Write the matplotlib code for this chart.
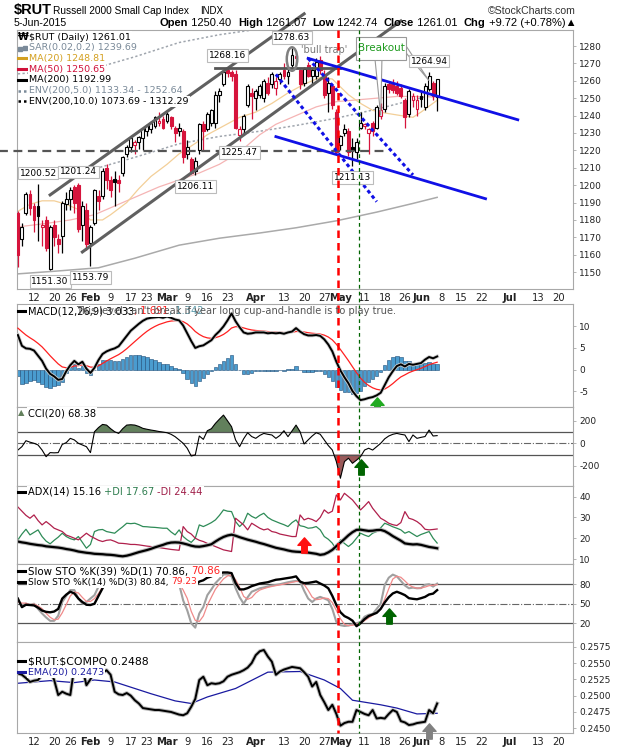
import matplotlib
matplotlib.use("Agg")
import matplotlib.pyplot as plt
import numpy as np
import pandas as pd
from matplotlib.patches import Ellipse, Polygon, Rectangle
from matplotlib.path import Path

plt.rcParams["font.family"] = ["DejaVu Sans"]
plt.rcParams["axes.unicode_minus"] = False

RED = "#d6143c"
FRAME = "#a8a8a8"

HOLIDAYS = ["2015-01-19", "2015-02-16", "2015-04-03", "2015-05-25", "2015-07-03"]
SESSIONS = pd.bdate_range("2015-01-06", "2015-07-31", freq="C", holidays=HOLIDAYS)

TICK_DATES = ["2015-01-12", "2015-01-20", "2015-01-26", "2015-02-02", "2015-02-09",
              "2015-02-17", "2015-02-23", "2015-03-02", "2015-03-09", "2015-03-16",
              "2015-03-23", "2015-04-01", "2015-04-13", "2015-04-20", "2015-04-27",
              "2015-05-01", "2015-05-11", "2015-05-18", "2015-05-26", "2015-06-01",
              "2015-06-08", "2015-06-15", "2015-06-22", "2015-07-01", "2015-07-13",
              "2015-07-20"]
TICK_LABELS = ["12", "20", "26", "Feb", "9", "17", "23", "Mar", "9", "16", "23", "Apr",
               "13", "20", "27", "May", "11", "18", "26", "Jun", "8", "15", "22", "Jul",
               "13", "20"]

# daily $RUT candles, 6-Jan-2015 .. 5-Jun-2015
OPEN = [1184, 1169, 1184, 1195, 1188, 1188, 1176, 1180, 1152, 1177,
        1169, 1171, 1189, 1192, 1199, 1200, 1177, 1186, 1167, 1178,
        1194, 1194, 1210, 1203, 1203.5, 1203, 1207, 1218, 1222, 1223,
        1225, 1227, 1231, 1232, 1234, 1236, 1238, 1237, 1239, 1233,
        1231, 1231, 1218, 1215, 1208, 1220, 1235, 1232, 1236, 1236,
        1252, 1258, 1266, 1265, 1264, 1229, 1232, 1246, 1253, 1250,
        1252, 1250, 1259, 1258, 1256, 1261, 1266, 1263, 1269, 1274,
        1266, 1259, 1269, 1263, 1263, 1272, 1264, 1253, 1257, 1242,
        1223, 1230, 1231, 1222, 1219, 1233, 1234, 1230, 1236, 1233,
        1240, 1244, 1258, 1258, 1257, 1256, 1249, 1241, 1249, 1244,
        1251, 1245, 1255, 1259, 1250.40]
HIGH = [1185, 1178, 1196, 1197, 1190, 1200.52, 1180, 1182, 1177, 1180,
        1172, 1191, 1196, 1199, 1200, 1201.24, 1191, 1190, 1177, 1198,
        1197, 1210, 1212, 1205, 1208, 1206, 1217, 1223, 1228, 1226,
        1228, 1233, 1235, 1237, 1240, 1242, 1240, 1242, 1240, 1234,
        1236, 1232, 1226, 1216, 1216, 1236, 1237, 1242, 1244, 1254,
        1256, 1266, 1268.16, 1266, 1266, 1234, 1241, 1258, 1256, 1255,
        1258, 1261, 1262, 1265, 1262, 1265, 1270, 1267, 1278.63, 1276,
        1267, 1268, 1271, 1268, 1273, 1274, 1266, 1262, 1258, 1244,
        1229, 1235, 1233, 1227, 1227, 1242, 1236, 1233, 1237, 1246,
        1247, 1259, 1260, 1261, 1260, 1258, 1250, 1255, 1253, 1252,
        1254, 1259, 1264.94, 1260, 1261.07]
LOW = [1153, 1165, 1183, 1183, 1173, 1168, 1165, 1162, 1151.30, 1165,
       1161, 1161, 1186, 1186, 1184, 1173, 1168, 1163, 1153.79, 1177,
       1186, 1192, 1198, 1193, 1188, 1196, 1205, 1216, 1219, 1218,
       1221, 1220, 1228, 1230, 1233, 1234, 1232, 1236, 1232, 1225,
       1228, 1213, 1215, 1206.5, 1206.11, 1218, 1220, 1231, 1234, 1233,
       1248, 1257, 1262, 1260, 1232, 1225.47, 1230, 1245, 1238, 1243,
       1250, 1248, 1252, 1256, 1252, 1258, 1261, 1258, 1268, 1270,
       1255, 1257, 1262, 1258, 1261, 1264, 1250, 1242, 1244, 1218,
       1220, 1228, 1217, 1211.13, 1215, 1232, 1232, 1218, 1228, 1232,
       1238, 1242, 1253, 1253, 1252, 1250, 1233, 1239, 1245, 1240,
       1245, 1243, 1254, 1249, 1242.74]
CLOSE = [1160, 1176, 1195, 1187, 1180, 1182, 1177, 1164, 1176, 1170,
         1166, 1190, 1192, 1197, 1190, 1175, 1188, 1166, 1176, 1197,
         1191, 1208, 1203, 1197, 1202, 1201, 1216, 1222, 1227, 1225,
         1227.5, 1232, 1234, 1235.5, 1239, 1237, 1233, 1241, 1234, 1230,
         1233, 1216, 1222, 1207, 1214, 1235, 1231, 1241, 1243, 1252,
         1254, 1265, 1264.5, 1263, 1233, 1232, 1240, 1257, 1251, 1254,
         1257, 1260, 1253, 1264, 1260, 1264, 1263, 1265, 1275, 1273,
         1258, 1267, 1263, 1266, 1271, 1266, 1252, 1259, 1246, 1219,
         1228, 1232, 1219, 1220, 1225, 1236, 1235, 1232, 1231, 1245,
         1243, 1257, 1255, 1254.5, 1253, 1251, 1239, 1254, 1251.5, 1249,
         1249.5, 1257, 1263, 1251, 1261.01]

# overlays read at weekly points
MA20_DATES = ["2015-01-06", "2015-01-09", "2015-01-14", "2015-01-20", "2015-01-23",
              "2015-01-28", "2015-02-02", "2015-02-05", "2015-02-09", "2015-02-13",
              "2015-02-19", "2015-02-24", "2015-03-02", "2015-03-05", "2015-03-11",
              "2015-03-16", "2015-03-20", "2015-03-26", "2015-04-01", "2015-04-08",
              "2015-04-14", "2015-04-20", "2015-04-24", "2015-04-29", "2015-05-05",
              "2015-05-08", "2015-05-13", "2015-05-18", "2015-05-22", "2015-05-28",
              "2015-06-01", "2015-06-05"]
MA20 = [1185, 1189, 1191, 1191, 1189, 1186, 1180, 1180, 1183, 1190, 1198, 1205, 1212,
        1218, 1224, 1229, 1234, 1239, 1242, 1247, 1253, 1258, 1262, 1261, 1252, 1247,
        1243, 1241.5, 1240, 1239, 1242, 1248.81]
MA50_DATES = ["2015-01-06", "2015-01-15", "2015-01-26", "2015-02-03", "2015-02-10",
              "2015-02-18", "2015-02-26", "2015-03-05", "2015-03-12", "2015-03-19",
              "2015-03-26", "2015-04-02", "2015-04-09", "2015-04-16", "2015-04-23",
              "2015-04-30", "2015-05-07", "2015-05-14", "2015-05-21", "2015-05-28",
              "2015-06-05"]
MA50 = [1176, 1178, 1180, 1183, 1188, 1193, 1199, 1203, 1207, 1212, 1219, 1229, 1235,
        1240, 1245, 1248, 1249, 1250, 1251, 1251, 1250.65]
MA200_DATES = ["2015-01-06", "2015-01-20", "2015-02-04", "2015-02-18", "2015-03-05",
               "2015-03-19", "2015-04-02", "2015-04-16", "2015-04-30", "2015-05-14",
               "2015-05-28", "2015-06-05"]
MA200 = [1149, 1150.5, 1152.5, 1158, 1165.5, 1169.5, 1172.5, 1175.5, 1179.5, 1184.5,
         1189.5, 1192.99]
ENV5_UP = [1206.5, 1208, 1210, 1216, 1223.8, 1228, 1231, 1234.3, 1238.5, 1243.7, 1249,
           1252.64]
ENV10_UP = [1264, 1265.5, 1267.8, 1273.8, 1282, 1286.5, 1289.8, 1293, 1297.5, 1303,
            1308.5, 1312.29]

PEAK_DATES = ["2015-01-13", "2015-01-28", "2015-03-23", "2015-04-15", "2015-06-03"]
PEAKS = [1200.52, 1201.24, 1268.16, 1278.63, 1264.94]
TROUGH_DATES = ["2015-01-16", "2015-02-02", "2015-03-11", "2015-03-26", "2015-05-06"]
TROUGHS = [1151.30, 1153.79, 1206.11, 1225.47, 1211.13]

# hand-drawn lines: (date, price) pairs
CHANNEL_UP = [("2015-01-16", 1194.4), ("2015-04-20", 1298.5)]
CHANNEL_LO = [("2015-01-29", 1161.6), ("2015-05-22", 1294.4)]
RESIST = [("2015-03-18", 1267.2), ("2015-05-01", 1267.2)]
SUPPORT = 1219.6
SUPPORT_END = "2015-05-19"
BLUE_UP = [("2015-04-21", 1272.9), ("2015-07-06", 1237.6)]
BLUE_LO = [("2015-04-09", 1227.9), ("2015-06-23", 1192.2)]
BLUE_DOT_A = [("2015-04-09", 1263.7), ("2015-05-14", 1190.5)]
BLUE_DOT_B = [("2015-04-21", 1272.9), ("2015-05-28", 1205.9)]

MACD = [8.0, 5.5, 4.9, 4.8, 4.4, 3.2, 2.0, 0.2, -1.0, -1.6,
        -2.4, -2.2, -0.4, 1.0, 2.0, 1.2, 1.8, 0.2, -0.8, 0.4,
        2.2, 3.6, 4.2, 4.6, 4.9, 5.4, 6.6, 7.8, 9.0, 9.8,
        10.6, 11.3, 11.8, 12.0, 12.1, 12.2, 12.0, 12.3, 12.0, 11.6,
        11.4, 10.2, 8.4, 6.6, 5.0, 5.4, 5.6, 6.2, 6.8, 8.0,
        8.9, 10.0, 11.4, 13.0, 11.2, 9.8, 8.6, 8.3, 8.4, 8.6,
        8.6, 8.6, 8.4, 8.5, 8.4, 8.5, 8.3, 8.6, 8.8, 9.6,
        8.8, 8.2, 7.9, 7.9, 8.0, 7.8, 7.0, 5.8, 4.2, 1.8,
        -0.2, -1.8, -3.2, -5.0, -6.2, -7.1, -6.9, -6.6, -6.4, -6.0,
        -5.4, -3.6, -1.8, -0.4, 0.8, 1.2, 0.7, 1.3, 1.1, 1.3,
        1.5, 2.3, 2.9, 2.6, 3.033]
SIGNAL = [9.6, 8.78, 8.0, 7.36, 6.77, 6.06, 5.25, 4.24, 3.19, 2.23,
          1.30, 0.6, 0.4, 0.52, 0.82, 0.9, 1.08, 0.9, 0.56, 0.53,
          0.86, 1.41, 1.97, 2.5, 2.98, 3.46, 4.09, 4.83, 5.66, 6.49,
          7.31, 8.11, 8.85, 9.48, 10.0, 10.44, 10.75, 11.06, 11.25, 11.32,
          11.34, 11.11, 10.57, 9.78, 8.82, 8.14, 7.63, 7.34, 7.23, 7.38,
          7.68, 8.14, 8.79, 9.63, 9.94, 9.91, 9.65, 9.38, 9.18, 9.06,
          8.97, 8.90, 8.80, 8.74, 8.67, 8.64, 8.57, 8.58, 8.62, 8.82,
          8.82, 8.70, 8.54, 8.41, 8.33, 8.22, 7.98, 7.54, 6.87, 5.86,
          4.65, 3.36, 2.05, 0.64, -0.73, -2.0, -2.98, -3.71, -4.25, -4.6,
          -4.76, -4.53, -3.98, -3.27, -2.45, -1.72, -1.24, -0.73, -0.36, -0.03,
          0.28, 0.68, 1.13, 1.42, 1.691]
HIST = [-1.6, -3.28, -3.1, -2.56, -2.37, -2.86, -3.25, -4.04, -4.19, -3.83,
        -3.7, -2.8, -0.8, 0.48, 1.18, 0.3, 0.72, -0.7, -1.36, -0.13,
        1.34, 2.19, 2.23, 2.1, 1.92, 1.94, 2.51, 2.97, 3.34, 3.31,
        3.29, 3.19, 2.95, 2.52, 2.1, 1.76, 1.25, 1.24, 0.75, 0.28,
        0.06, -0.91, -2.17, -3.18, -3.82, -2.74, -2.03, -1.14, -0.43, 0.62,
        1.22, 1.86, 2.61, 3.37, 1.26, -0.11, -1.05, -1.08, -0.78, -0.46,
        -0.37, -0.3, -0.4, -0.24, -0.27, -0.14, -0.27, 0.02, 0.18, 0.78,
        -0.02, -0.5, -0.64, -0.51, -0.33, -0.42, -0.98, -1.74, -2.67, -4.06,
        -4.85, -5.16, -5.25, -5.64, -5.47, -5.1, -3.92, -2.89, -2.15, -1.4,
        -0.64, 0.93, 2.18, 2.87, 3.25, 2.92, 1.94, 2.03, 1.46, 1.33,
        1.22, 1.62, 1.77, 1.18, 1.342]

CCI = [-60, -30, 23, 10, 0, -15, -60, -119, -83, -85,
       -83, -10, 6, 44, 30, 0, -15, -30, -83, 103,
       140, 168, 162, 130, 103, 88, 130, 162, 165, 162,
       150, 133, 125, 118, 112, 105, 100, 94, 80, 59,
       30, 0, -44, -113, -104, 65, 35, 112, 130, 177,
       215, 251, 200, 148, 30, -30, 40, 94, 60, 44,
       70, 88, 80, 74, 44, 70, 112, 59, 110, 162,
       103, -6, 30, 65, 94, 80, 30, -20, -60, -163,
       -311, -163, -133, -178, -150, -119, -60, -44, -60, -30,
       0, 40, 65, 80, 88, 80, 74, 15, 74, 44,
       53, 60, 118, 65, 68.38]

ADX = [18.4, 18.0, 17.7, 17.3, 17.0, 16.7, 16.5, 16.1, 15.9, 15.7,
       15.5, 15.2, 14.8, 14.5, 14.1, 13.6, 13.3, 13.0, 12.8, 12.5,
       12.4, 12.3, 12.1, 12.0, 11.8, 11.5, 11.3, 11.6, 12.1, 12.7,
       13.3, 13.8, 14.3, 14.9, 15.6, 16.2, 16.8, 17.5, 17.9, 18.0,
       17.9, 17.5, 17.0, 16.4, 16.0, 15.9, 16.2, 16.6, 17.1, 18.4,
       19.6, 20.6, 21.3, 21.7, 21.2, 20.5, 19.9, 19.3, 18.8, 18.3,
       17.7, 17.2, 16.6, 16.0, 15.4, 15.0, 14.6, 14.1, 13.7, 13.5,
       13.4, 13.3, 13.1, 12.8, 12.5, 12.0, 12.3, 13.2, 14.4, 16.2,
       17.9, 19.6, 21.4, 22.9, 24.0, 24.1, 23.8, 23.5, 23.6, 23.9,
       24.0, 23.4, 22.3, 21.0, 19.9, 18.8, 17.5, 17.2, 17.0, 17.1,
       16.8, 16.3, 15.8, 15.5, 15.16]
PLUS_DI = [19.2, 22.0, 24.3, 21.6, 22.8, 24.0, 20.8, 18.6, 17.3, 19.0,
           20.5, 22.4, 20.8, 19.8, 19.2, 20.8, 18.0, 15.2, 17.0, 23.2,
           24.0, 24.2, 23.2, 22.8, 22.4, 24.0, 25.5, 27.2, 27.0, 27.2,
           26.5, 25.6, 25.5, 25.3, 25.2, 25.0, 24.8, 24.8, 23.0, 21.6,
           24.0, 20.8, 19.2, 18.0, 20.0, 26.4, 25.6, 26.5, 27.5, 28.8,
           31.0, 33.6, 33.0, 32.8, 28.0, 25.6, 27.5, 32.0, 30.5, 29.6,
           31.0, 32.0, 30.0, 28.8, 28.0, 27.2, 26.5, 25.6, 27.5, 28.8,
           26.0, 25.6, 24.8, 25.0, 25.6, 24.0, 20.8, 19.5, 17.6, 14.4,
           19.2, 17.5, 16.0, 17.6, 20.0, 22.4, 21.5, 20.8, 22.4, 23.2,
           25.0, 27.2, 26.4, 25.5, 24.8, 24.0, 22.4, 23.2, 22.0, 20.8,
           21.8, 22.5, 23.2, 20.0, 17.67]
MINUS_DI = [35.0, 33.0, 31.0, 29.6, 31.2, 28.5, 26.4, 28.0, 26.5, 24.8,
            24.0, 23.2, 21.5, 20.8, 20.0, 19.2, 20.8, 22.4, 21.0, 20.0,
            19.0, 18.4, 19.0, 19.2, 18.5, 17.6, 17.5, 17.3, 17.0, 17.0,
            16.8, 16.5, 16.2, 16.0, 15.8, 15.5, 15.2, 14.9, 14.6, 14.4,
            14.2, 25.6, 23.2, 22.0, 20.0, 19.0, 18.4, 17.5, 16.8, 16.0,
            15.2, 14.4, 14.0, 13.6, 29.6, 28.0, 26.4, 24.0, 27.2, 26.0,
            24.8, 24.0, 24.5, 23.2, 22.8, 22.0, 21.6, 21.2, 20.8, 20.8,
            31.2, 28.8, 29.6, 29.0, 28.0, 30.0, 33.6, 32.0, 33.0, 40.8,
            38.4, 41.6, 40.0, 38.4, 36.0, 33.6, 35.5, 37.6, 34.4, 32.0,
            29.6, 28.5, 27.2, 26.5, 26.1, 27.5, 32.8, 29.6, 29.0, 28.0,
            26.5, 24.3, 24.0, 24.2, 24.44]

STO39_K = [57.9, 44.7, 48.4, 48.0, 47.4, 44.0, 39.5, 37.5, 36.8, 38.0,
           42.0, 57.9, 64.0, 68.4, 65.8, 58.0, 52.6, 48.4, 48.0, 50.0,
           62.0, 73.7, 84.2, 90.0, 95.0, 92.0, 93.0, 95.0, 96.0, 95.0,
           96.0, 97.0, 97.0, 96.0, 97.0, 96.0, 93.0, 95.0, 92.0, 90.0,
           90.0, 82.0, 80.0, 77.0, 78.0, 84.0, 86.0, 90.0, 92.0, 96.0,
           97.0, 98.0, 98.0, 97.0, 82.0, 72.0, 72.0, 74.0, 77.0, 79.0,
           81.0, 82.0, 83.0, 85.0, 86.8, 87.5, 88.5, 89.5, 90.5, 92.0,
           84.0, 81.6, 82.0, 83.0, 84.2, 81.0, 78.0, 73.7, 62.0, 48.0,
           37.0, 31.0, 28.0, 24.0, 15.5, 20.0, 26.3, 31.0, 33.5, 36.0,
           42.1, 52.0, 60.0, 65.8, 68.4, 66.0, 63.2, 58.5, 57.5, 56.8,
           58.5, 60.5, 64.2, 65.5, 70.86]
STO14_K = [55.3, 47.4, 50.0, 48.0, 50.0, 42.0, 35.0, 28.9, 23.7, 23.7,
           31.6, 52.6, 62.0, 71.0, 71.0, 57.9, 50.0, 52.6, 58.0, 63.2,
           76.3, 88.0, 94.0, 92.0, 90.0, 88.0, 93.0, 96.0, 97.0, 95.0,
           96.0, 97.0, 98.0, 97.0, 98.0, 95.0, 88.0, 92.0, 85.0, 78.0,
           80.0, 55.0, 40.0, 20.0, 13.2, 35.0, 45.0, 63.2, 72.0, 81.6,
           88.0, 95.0, 95.0, 92.0, 74.0, 60.0, 50.0, 60.0, 68.4, 71.0,
           73.7, 75.0, 76.5, 78.0, 78.9, 80.0, 81.5, 83.0, 84.2, 85.0,
           84.2, 70.0, 58.0, 52.6, 58.0, 60.5, 58.0, 55.3, 42.0, 22.0,
           17.0, 15.8, 16.5, 18.4, 20.0, 22.0, 30.0, 33.0, 34.2, 42.0,
           50.0, 78.9, 90.0, 94.7, 92.0, 85.0, 78.0, 73.7, 74.7, 73.7,
           74.0, 79.0, 80.0, 76.3, 80.84]
STO14_D = [52.6, 51.0, 50.9, 48.5, 49.3, 46.7, 42.3, 35.3, 29.2, 25.4,
           26.3, 36.0, 48.7, 61.9, 68.0, 66.6, 59.6, 53.5, 53.5, 57.9,
           65.8, 75.8, 86.1, 91.3, 92.0, 90.0, 90.3, 92.3, 95.3, 96.0,
           96.0, 96.0, 97.0, 97.3, 97.7, 96.7, 93.7, 91.7, 88.3, 85.0,
           81.0, 71.0, 58.3, 38.3, 24.4, 22.7, 31.1, 47.7, 60.1, 72.3,
           80.5, 88.2, 92.7, 94.0, 87.0, 75.3, 61.3, 56.7, 59.5, 66.5,
           71.0, 73.2, 75.1, 76.5, 77.8, 79.0, 80.1, 81.5, 82.9, 84.1,
           84.5, 79.7, 70.7, 60.2, 56.2, 57.0, 58.8, 57.9, 51.8, 39.8,
           27.0, 18.3, 16.4, 16.9, 18.3, 20.1, 24.0, 28.3, 32.4, 36.4,
           42.1, 57.0, 73.0, 87.9, 92.2, 90.6, 85.0, 78.9, 75.5, 74.0,
           74.1, 75.6, 77.7, 78.4, 79.23]

RATIO = [0.2534, 0.2532, 0.2527, 0.2521, 0.2523, 0.2524, 0.2532, 0.2536, 0.2539, 0.2524,
         0.2501, 0.2506, 0.2503, 0.2501, 0.2544, 0.2534, 0.2542, 0.2516, 0.2525, 0.2537,
         0.2530, 0.2535, 0.2539, 0.2532, 0.2506, 0.2502, 0.2501, 0.2504, 0.2500, 0.2493,
         0.2488, 0.2481, 0.2480, 0.2479, 0.2478, 0.2478, 0.2477, 0.2476, 0.2475, 0.2473,
         0.2471, 0.2470, 0.2473, 0.2483, 0.2495, 0.2524, 0.2529, 0.2516, 0.2519, 0.2518,
         0.2519, 0.2522, 0.2529, 0.2532, 0.2534, 0.2536, 0.2539, 0.2543, 0.2550, 0.2562,
         0.2568, 0.2570, 0.2560, 0.2552, 0.2532, 0.2537, 0.2540, 0.2542, 0.2544, 0.2543,
         0.2542, 0.2536, 0.2529, 0.2514, 0.2521, 0.2501, 0.2490, 0.2478, 0.2486, 0.2472,
         0.2454, 0.2458, 0.2460, 0.2460, 0.2478, 0.2475, 0.2472, 0.2470, 0.2478, 0.2465,
         0.2466, 0.2465, 0.2472, 0.2478, 0.2475, 0.2461, 0.2459, 0.2455, 0.2456, 0.2458,
         0.2459, 0.2460, 0.2478, 0.2473, 0.2488]
RATIO_EMA_DATES = ["2015-01-06", "2015-01-16", "2015-01-27", "2015-02-03", "2015-02-10",
                   "2015-02-24", "2015-03-04", "2015-03-10", "2015-03-16", "2015-03-25",
                   "2015-04-07", "2015-04-17", "2015-04-27", "2015-05-01", "2015-05-06",
                   "2015-05-15", "2015-05-21", "2015-05-29", "2015-06-05"]
RATIO_EMA = [0.2519, 0.2523, 0.2520, 0.2524, 0.2521, 0.2503, 0.2492, 0.2488, 0.2498,
             0.2511, 0.2536, 0.2537, 0.2524, 0.2511, 0.2493, 0.2486, 0.2481, 0.2472,
             0.2473]

# signal arrows: panel, date, level, colour
ARROWS = [("macd", "2015-05-14", -8.3, "#22aa22"),
          ("cci", "2015-05-08", -215, "#006400"),
          ("adx", "2015-04-20", 16.8, "#ff1010"),
          ("sto", "2015-05-19", 30.7, "#006400"),
          ("ratio", "2015-06-03", 0.24465, "#808080")]


def pos(d):
    return SESSIONS.get_loc(pd.Timestamp(d))


def seg(ax, pts, **kw):
    ax.plot([pos(d) for d, _ in pts], [v for _, v in pts], **kw)


ARROW = Path([(-0.36, -1), (0.36, -1), (0.36, 0.02), (0.86, 0.02), (0, 1),
              (-0.86, 0.02), (-0.36, 0.02), (-0.36, -1)],
             [1, 2, 2, 2, 2, 2, 2, 79])

x = np.arange(len(CLOSE))
XLIM = (-0.22, 137.7)
L, W = 17 / 620, 556 / 620


def panel(top, bottom):
    return fig.add_axes([L, 1 - bottom / 750, W, (bottom - top) / 750])


fig = plt.figure(figsize=(6.2, 7.5), dpi=100)
ax = panel(30, 289)
ax_macd = panel(304, 407)
ax_cci = panel(407, 486)
ax_adx = panel(486, 564)
ax_sto = panel(564, 642)
ax_rat = panel(642, 733)
panels = dict(main=ax, macd=ax_macd, cci=ax_cci, adx=ax_adx, sto=ax_sto, ratio=ax_rat)

tick_pos = [pos(d) for d in TICK_DATES]
for a in panels.values():
    a.set_xlim(*XLIM)
    a.yaxis.tick_right()
    a.tick_params(axis="y", labelsize=6.5, length=2.5, width=0.6, pad=2,
                  colors=FRAME, labelcolor="#222")
    a.set_xticks(tick_pos)
    a.tick_params(axis="x", length=0, labelbottom=False)
    for s in a.spines.values():
        s.set_color(FRAME)
        s.set_linewidth(0.8)
for a in (ax, ax_rat):
    a.tick_params(axis="x", labelbottom=True, labelsize=7.2, pad=3, colors="#222")
    a.set_xticklabels(TICK_LABELS)
    for lbl in a.get_xticklabels():
        if not lbl.get_text().isdigit():
            lbl.set_fontweight("bold")

# ---------------- price panel ----------------
o, h, l, c = (np.asarray(v, float) for v in (OPEN, HIGH, LOW, CLOSE))
prev = np.r_[o[0], c[:-1]]
edge = np.where(c < prev, RED, "black")
face = np.where(c >= o, "white", edge)
ax.plot([pos(d) for d in MA200_DATES], MA200, color="#aaaaaa", lw=1.1, zorder=1)
ax.plot([pos(d) for d in MA200_DATES], ENV5_UP, color="#a0a6ae", lw=1.1, ls=(0, (1.5, 1.5)), zorder=1)
ax.plot([pos(d) for d in MA200_DATES], ENV10_UP, color="#a0a6ae", lw=1.1, ls=(0, (1.5, 1.5)), zorder=1)
ax.plot([pos(d) for d in MA50_DATES], MA50, color="#f5b4b4", lw=0.9, zorder=1)
ax.plot([pos(d) for d in MA20_DATES], MA20, color="#f3cf98", lw=0.9, zorder=1)
ax.vlines(x, l, h, colors=edge, lw=0.9, zorder=3)
ax.bar(x, np.maximum(np.abs(c - o), 0.35), bottom=np.minimum(o, c), width=0.72,
       color=face, edgecolor=edge, lw=0.8, zorder=3.5)
ax.set_ylim(1140.3, 1289.2)
ax.set_yticks(range(1150, 1281, 10))

seg(ax, CHANNEL_UP, color="#606060", lw=2.2, clip_on=False, zorder=5)
seg(ax, CHANNEL_LO, color="#606060", lw=2.2, clip_on=False, zorder=5)
seg(ax, RESIST, color="#555555", lw=2.0, zorder=5)
ax.plot([XLIM[0] - 4.4, pos(SUPPORT_END)], [SUPPORT, SUPPORT], color="#555555", lw=1.6,
        ls=(0, (4, 2.5)), clip_on=False, zorder=5)
seg(ax, BLUE_UP, color="#1010e6", lw=2.0, zorder=5)
seg(ax, BLUE_LO, color="#1010e6", lw=2.0, zorder=5)
seg(ax, BLUE_DOT_A, color="#1010e6", lw=2.2, ls=(0, (1.2, 1.0)), zorder=5)
seg(ax, BLUE_DOT_B, color="#1010e6", lw=2.2, ls=(0, (1.2, 1.0)), zorder=5)

lbl_box = dict(boxstyle="square,pad=0.2", fc="white", ec="#bbbbbb", lw=0.8)
for d, v in zip(PEAK_DATES, PEAKS):
    ax.annotate(f"{v:.2f}", (pos(d), v), xytext=(0, 8), textcoords="offset points",
                ha="center", va="center", fontsize=6.5, bbox=lbl_box, zorder=7,
                annotation_clip=False)
for d, v in zip(TROUGH_DATES, TROUGHS):
    ax.annotate(f"{v:.2f}", (pos(d), v), xytext=(0, -8.5), textcoords="offset points",
                ha="center", va="center", fontsize=6.5, bbox=lbl_box, zorder=7,
                annotation_clip=False)

# bull trap marker and breakout callout
ax.add_patch(Ellipse((pos("2015-04-15"), 1272.5), 2.6, 13.5, fill=False, ec="#808080",
                     lw=1.8, zorder=6))
ax.text(pos("2015-04-27"), 1277.7, "'bull trap'", fontsize=7, color="#777777",
        ha="center", va="center", zorder=7)
wedge_a = [(pos("2015-05-14") - 0.4, 1272), (pos("2015-05-15") + 0.3, 1272),
           (pos("2015-05-15"), 1240)]
wedge_b = [(pos("2015-05-22") + 1.3, 1280), (pos("2015-05-22") + 1.3, 1276),
           (pos("2015-06-03"), 1260)]
for wv in (wedge_a, wedge_b):
    ax.add_patch(Polygon(wv, closed=True, fc="white", ec="#999999", lw=0.8, zorder=6,
                         clip_on=False))
bx0, bx1 = pos("2015-05-08") - 1.1, pos("2015-05-22") + 1.3
ax.add_patch(Rectangle((bx0, 1272), bx1 - bx0, 13.2, fc="white", ec="#999999", lw=0.8,
                       zorder=6.5, clip_on=False))
ax.text((bx0 + bx1) / 2, 1278.6, "Breakout", color="#1e9a1e", fontsize=7.5, ha="center",
        va="center", zorder=7)

# ---------------- MACD ----------------
ax_macd.bar(x, HIST, width=0.85, color="#4a9ccf", edgecolor="#1f4e79", lw=0.4, zorder=2)
ax_macd.plot(x, SIGNAL, color="#ff2020", lw=0.9, zorder=3)
ax_macd.plot(x, MACD, color="#cccccc", lw=2.6, zorder=3)
ax_macd.plot(x, MACD, color="black", lw=1.4, zorder=4)
ax_macd.set_ylim(-8.7, 15.2)
ax_macd.set_yticks([-5, 0, 5, 10])

# ---------------- CCI ----------------
cci = np.asarray(CCI, float)
ax_cci.fill_between(x, cci, 100, where=cci > 100, interpolate=True, color="#62805c", lw=0)
ax_cci.fill_between(x, cci, -100, where=cci < -100, interpolate=True, color="#9a5a5a", lw=0)
ax_cci.axhline(100, color="#555555", lw=0.9)
ax_cci.axhline(-100, color="#555555", lw=0.9)
ax_cci.axhline(0, color="#666666", lw=0.8, ls="-.")
ax_cci.plot(x, cci, color="black", lw=0.8)
ax_cci.set_ylim(-380, 323)
ax_cci.set_yticks([-200, 0, 200])

# ---------------- ADX ----------------
ax_adx.plot(x, PLUS_DI, color="#2e8b57", lw=0.9)
ax_adx.plot(x, MINUS_DI, color="#b0204c", lw=0.9)
ax_adx.plot(x, ADX, color="#bbbbbb", lw=3.0)
ax_adx.plot(x, ADX, color="black", lw=1.6)
ax_adx.set_ylim(7.6, 45.1)
ax_adx.set_yticks([10, 20, 30, 40])

# ---------------- Slow stochastics ----------------
for lvl in (80, 20):
    ax_sto.axhline(lvl, color="#555555", lw=0.9)
ax_sto.axhline(50, color="#666666", lw=0.8, ls="-.")
ax_sto.plot(x, STO14_K, color="#a0a0a0", lw=1.5)
ax_sto.plot(x, STO14_D, color="#f08a8a", lw=0.9)
ax_sto.plot(x, STO39_K, color="black", lw=1.7)
ax_sto.set_ylim(-8.8, 111)
ax_sto.set_yticks([20, 50, 80])

# ---------------- $RUT:$COMPQ ----------------
ax_rat.plot([pos(d) for d in RATIO_EMA_DATES], RATIO_EMA, color="#1a1aa0", lw=0.9)
ax_rat.plot(x, RATIO, color="#bbbbbb", lw=2.8)
ax_rat.plot(x, RATIO, color="black", lw=1.4)
ax_rat.set_ylim(0.24428, 0.25822)
ax_rat.set_yticks([0.2450, 0.2475, 0.2500, 0.2525, 0.2550, 0.2575])
ax_rat.set_yticklabels([f"{v:.4f}" for v in ax_rat.get_yticks()])

for key, d, v, col in ARROWS:
    panels[key].plot([pos(d)], [v], marker=ARROW, ms=11, color=col, mec=col, ls="none",
                     clip_on=False, zorder=9)

# ---------------- overlay: header, legends, event lines ----------------
ov = fig.add_axes([0, 0, 1, 1], zorder=10)
ov.set_xlim(0, 620)
ov.set_ylim(750, 0)
ov.axis("off")


def to_px(a, xv, yv):
    return ov.transData.inverted().transform(a.transData.transform((xv, yv)))


y_top = ov.transData.inverted().transform(ax.transAxes.transform((0, 1)))[1]
y_bot = ov.transData.inverted().transform(ax_rat.transAxes.transform((0, 0)))[1]
xr = to_px(ax, pos("2015-04-30") + 0.4, 1200)[0]
xg = to_px(ax, pos("2015-05-07") + 0.6, 1200)[0]
ov.plot([xr, xr], [y_top, y_bot], color="#ff0000", lw=1.8, ls=(0, (3, 2)))
ov.plot([xg, xg], [y_top, y_bot], color="#006400", lw=0.9, ls=(0, (3, 2.5)))


def chain(x0, y0, pieces, size, bg=None, family=None, z=3):
    t = None
    for s, col, wt in pieces:
        kw = dict(fontsize=size, color=col, fontweight=wt, va="center", ha="left", zorder=z)
        if family:
            kw["family"] = family
        if bg:
            kw["bbox"] = dict(fc=bg, ec="none", pad=0.8)
        if t is None:
            t = ov.annotate(s, (x0, y0), xycoords="data", **kw)
        else:
            t = ov.annotate(s, (1, 0.5), xycoords=t, **kw)
    return t


HDR = ["Liberation Sans", "DejaVu Sans"]
ov.text(14, 10, "$RUT", fontsize=10.5, fontweight="bold", family=HDR, va="center")
ov.text(53, 10.5, "Russell 2000 Small Cap Index", fontsize=7.3, family=HDR, va="center")
ov.text(200, 10.5, "INDX", fontsize=7.0, family=HDR, va="center")
ov.text(576, 10.5, "\u00a9StockCharts.com", fontsize=7.6, family=HDR, va="center",
        ha="right", color="#333")
ov.text(14, 23, "5-Jun-2015", fontsize=7.6, family=HDR, va="center")
chain(160, 23, [("Open", "black", "bold"), (" 1250.40  ", "black", "normal"),
                ("High", "black", "bold"), (" 1261.07  ", "black", "normal"),
                ("Low", "black", "bold"), (" 1242.74  ", "black", "normal"),
                ("Close", "black", "bold"), (" 1261.01  ", "black", "normal"),
                ("Chg", "black", "bold"), (" +9.72 (+0.78%)\u25b2", "black", "normal")],
      8.0, family=HDR)

# price legend
leg = [("$RUT (Daily) 1261.01", "black", None),
       ("SAR(0.02,0.2) 1239.69", "#7a8a99", "sq"),
       ("MA(20) 1248.81", "#d4a020", "-"),
       ("MA(50) 1250.65", "#d0103a", "-"),
       ("MA(200) 1192.99", "black", "-"),
       ("ENV(200,5.0) 1133.34 - 1252.64", "#7a8a99", ":"),
       ("ENV(200,10.0) 1073.69 - 1312.29", "black", ":")]
for i, (s, col, kind) in enumerate(leg):
    yy = 37 + i * 10.7
    chain(29, yy, [(s, col, "normal")], 6.8, bg="white")
    if kind == "-":
        ov.plot([18, 27], [yy, yy], color=col, lw=2.2)
    elif kind == ":":
        ov.plot([18, 27], [yy, yy], color=col, lw=1.8, ls=(0, (1, 1.2)))
    elif kind == "sq":
        ov.plot([20, 25], [yy + 1, yy], ls="none", marker="s", ms=2.5, color=col)
    else:
        ov.text(17.5, yy, "\u20a9", fontsize=7, va="center", fontweight="bold")

chain(28, 311, [("MACD(12,26,9) 3.033", "black", "normal"), (", 1.691", "#ff2020", "normal"),
                (", 1.342", "#5a9aaa", "normal")], 7.1, bg="white")
ov.plot([18, 26], [311, 311], color="black", lw=2.2)
ov.text(76, 310.5, "This level can't break if year long cup-and-handle is to play true.",
        fontsize=7.1, color="#555555", va="center", zorder=6)

ov.text(18, 413, "\u25b2", fontsize=6, color="#62805c", va="center")
chain(28, 413, [("CCI(20) 68.38", "black", "normal")], 7.1, bg="white")

chain(28, 492, [("ADX(14) 15.16 ", "black", "normal"), ("+DI 17.67 ", "#2e7d4f", "normal"),
                ("-DI 24.44", "#a0204a", "normal")], 7.1, bg="white")
ov.plot([18, 26], [492, 492], color="black", lw=2.2)

chain(28, 571, [("Slow STO %K(39) %D(1) 70.86, ", "black", "normal"),
                ("70.86", "#ff2020", "normal")], 7.4, bg="white")
chain(28, 582, [("Slow STO %K(14) %D(3) 80.84, ", "black", "normal"),
                ("79.23", "#ff2020", "normal")], 6.5, bg="white")
ov.plot([18, 26], [571, 571], color="black", lw=2.2)
ov.plot([18, 26], [582, 582], color="black", lw=2.2)

chain(28, 661, [("\\$RUT:\\$COMPQ 0.2488", "black", "normal")], 7.8, bg="white")
chain(28, 672, [("EMA(20) 0.2473", "#1a1aa0", "normal")], 6.8, bg="white")
ov.plot([18, 26], [661, 661], color="black", lw=2.2)
ov.plot([18, 26], [672, 672], color="#1a1aa0", lw=2.2)

fig.savefig("out.png", dpi=100)
